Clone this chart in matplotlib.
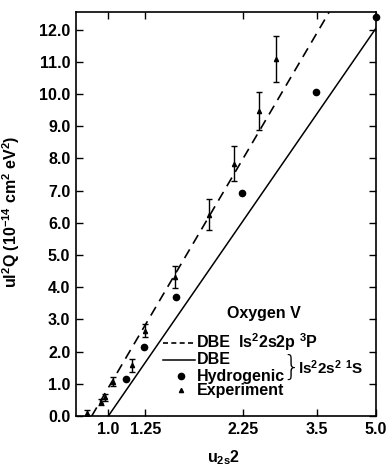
import matplotlib
matplotlib.use("Agg")
import matplotlib.pyplot as plt

plt.rcParams['font.family'] = ['Liberation Sans', 'DejaVu Sans']
plt.rcParams['font.weight'] = 'bold'
plt.rcParams['mathtext.fontset'] = 'custom'
plt.rcParams['mathtext.rm'] = 'Liberation Sans:bold'
plt.rcParams['mathtext.it'] = 'Liberation Sans:bold'
plt.rcParams['mathtext.bf'] = 'Liberation Sans:bold'
plt.rcParams['mathtext.default'] = 'rm'

# x ticks (log scale in u)
xticks = [1.0, 1.25, 2.25, 3.5, 5.0]
xticklabels = ['1.0', '1.25', '2.25', '3.5', '5.0']
yticks = list(range(0, 13))

# DBE curves (straight lines on the log axis), read at the axes edges
dbe_3p_x = [0.905, 3.77]
dbe_3p_y = [0.0, 12.54]
dbe_1s_x = [1.0, 5.0]
dbe_1s_y = [0.0, 12.05]

# hydrogenic
hyd_x = [1.11, 1.24, 1.50, 2.23, 3.49, 5.0]
hyd_y = [1.14, 2.15, 3.70, 6.93, 10.05, 12.4]

# experiment
exp_x = [0.88, 0.96, 0.98, 1.03, 1.15, 1.25, 1.49, 1.83, 2.13, 2.47, 2.74]
exp_y = [0.10, 0.44, 0.58, 1.07, 1.58, 2.65, 4.33, 6.25, 7.83, 9.48, 11.08]
exp_err = [0.10, 0.08, 0.11, 0.13, 0.20, 0.20, 0.34, 0.48, 0.54, 0.59, 0.72]

fig = plt.figure(figsize=(3.89, 4.67), dpi=100)
ax = fig.add_axes([0.195, 0.109, 0.772, 0.865])

ax.plot(dbe_3p_x, dbe_3p_y, color='black', lw=1.2, ls=(0, (6, 4)))
ax.plot(dbe_1s_x, dbe_1s_y, color='black', lw=1.1)
ax.plot(hyd_x, hyd_y, 'o', color='black', ms=4.5, clip_on=False)
ax.errorbar(exp_x, exp_y, yerr=exp_err, fmt='^', color='black', ms=3,
            elinewidth=1.0, capsize=2.5, capthick=1.0)

ax.set_xscale('log')
ax.set_xlim(0.823, 5.0)
ax.set_ylim(0, 12.54)
ax.set_xticks(xticks)
ax.set_xticklabels(xticklabels)
ax.xaxis.set_minor_locator(matplotlib.ticker.NullLocator())
ax.set_yticks(yticks)
ax.set_yticklabels(['%.1f' % v for v in yticks])
ax.tick_params(direction='in', top=True, right=True, length=5, width=1,
               labelsize=11.5, pad=4)
for lab in ax.get_xticklabels() + ax.get_yticklabels():
    lab.set_fontweight('bold')
for s in ax.spines.values():
    s.set_linewidth(1.2)

ax.set_ylabel(r'ul$^2$Q (10$^{-14}$ cm$^2$ eV$^2$)', fontsize=11.5,
              fontweight='bold')
ax.yaxis.set_label_coords(-0.178, 0.505)
ax.set_xlabel(r'u$_{2s}$2', fontsize=11.5, fontweight='bold')
ax.xaxis.set_label_coords(0.493, -0.08)

# legend drawn by hand
tr = ax.transAxes
ax.text(0.627, 0.253, 'Oxygen V', transform=tr, ha='center', va='center',
        fontsize=11.5, fontweight='bold')
rows = [0.182, 0.139, 0.099, 0.064]
ax.plot([0.29, 0.397], [rows[0]] * 2, transform=tr, color='black', lw=1.2,
        ls=(0, (3, 2)), clip_on=False)
ax.plot([0.29, 0.397], [rows[1]] * 2, transform=tr, color='black', lw=1.1,
        clip_on=False)
ax.plot([0.349], [rows[2]], 'o', transform=tr, color='black', ms=4.5)
ax.plot([0.349], [rows[3]], '^', transform=tr, color='black', ms=3)
for r, lab in zip(rows, ['DBE', 'DBE', 'Hydrogenic', 'Experiment']):
    ax.text(0.403, r, lab, transform=tr, ha='left', va='center',
            fontsize=11.5, fontweight='bold')
ax.text(0.54, rows[0], r'ls$^2$2s2p $^3$P', transform=tr, ha='left',
        va='center', fontsize=11.5, fontweight='bold')
ax.text(0.716, 0.119, '}', transform=tr, ha='center', va='center',
        fontsize=20, fontweight='light', family='DejaVu Sans')
ax.text(0.74, 0.121, r'ls$^2$2s$^2$ $^1$S', transform=tr, ha='left',
        va='center', fontsize=11, fontweight='bold')

fig.savefig('out.png', dpi=100)
